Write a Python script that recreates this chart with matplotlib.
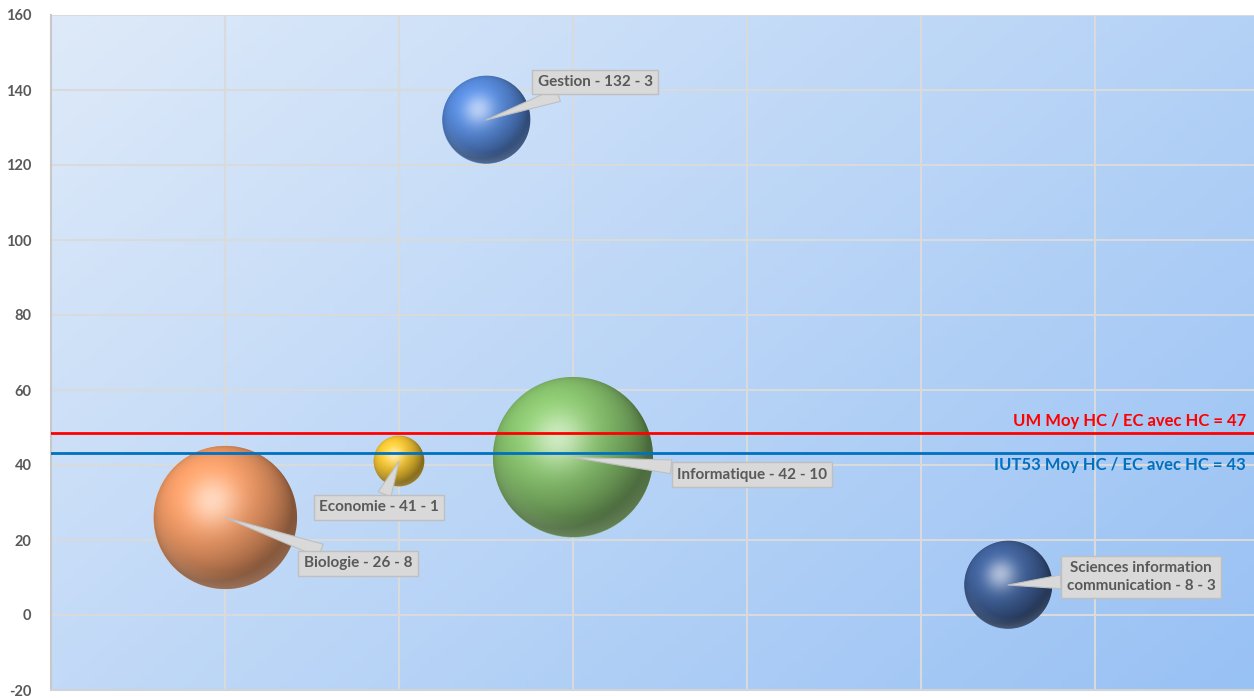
import numpy as np
import matplotlib
matplotlib.use("Agg")
import matplotlib.pyplot as plt
from matplotlib.offsetbox import OffsetImage, AnnotationBbox
from matplotlib.colors import to_rgb

# --------------------------------------------------
# DATA
# --------------------------------------------------
names = ["Biologie", "Economie", "Gestion", "Informatique",
         "Sciences information\ncommunication"]
x_vals = [1.0, 2.0, 2.5, 3.0, 5.5]
y_vals = [26, 41, 132, 42, 8]
sizes = [8, 1, 3, 10, 3]
colors = ["#f09a66", "#f0c232", "#5688d8", "#86c06c", "#40619a"]
label_offsets = [(133, -46), (-20, -46), (109, 38), (179, -17), (133, 8)]

um_avg = 48.5
iut_avg = 43.2
um_label = "UM Moy HC / EC avec HC = 47"
iut_label = "IUT53 Moy HC / EC avec HC = 43"

y_ticks = list(range(-20, 161, 20))

plt.rcParams["font.family"] = ["Lato", "DejaVu Sans"]

DPI = 100
fig = plt.figure(figsize=(12.54, 6.98), dpi=DPI)
ax = fig.add_axes([51 / 1254, 8 / 698, 1203 / 1254, 675 / 698])
ax.set_xlim(0, 1203 / 174)
ax.set_ylim(-20, 160)

# gradient background
gx, gy = np.meshgrid(np.linspace(0, 1, 200), np.linspace(1, 0, 200))
t = (gx * 0.6 + (1 - gy) * 0.4)
c0 = np.array([222, 234, 249]) / 255
c1 = np.array([152, 193, 244]) / 255
bg = c0 + (c1 - c0) * t[..., None]
ax.imshow(bg, extent=[0, 1, 0, 1], transform=ax.transAxes, aspect="auto", zorder=0)

# grid
ax.set_yticks(y_ticks, labels=[str(v) for v in y_ticks],
              fontweight="bold", fontsize=10.5, color="#595959")
ax.set_xticks(np.arange(1, 7))
ax.grid(True, color="#d9dadc", linewidth=1.5, zorder=1)
ax.set_axisbelow(True)
ax.tick_params(axis="both", length=0)
ax.tick_params(axis="y", pad=14)
ax.set_xticklabels([])
for s in ["top", "right"]:
    ax.spines[s].set_visible(False)
ax.spines["left"].set_color("#c8c8c8")
ax.spines["left"].set_linewidth(1.5)
ax.spines["bottom"].set_color("#d0d4da")
ax.spines["bottom"].set_linewidth(1.5)


def sphere(radius, color):
    n = int(2 * radius + 2)
    c = (n - 1) / 2
    yy, xx = np.mgrid[0:n, 0:n]
    u = (xx - c) / radius
    v = -(yy - c) / radius
    d = np.sqrt(u ** 2 + v ** 2)
    z = np.sqrt(np.clip(1 - d ** 2, 0, 1))
    L = np.array([-0.35, 0.45, 0.82])
    L = L / np.linalg.norm(L)
    diff = np.clip(u * L[0] + v * L[1] + z * L[2], 0, 1)
    H = L + np.array([0, 0, 1.0])
    H = H / np.linalg.norm(H)
    spec = np.clip(u * H[0] + v * H[1] + z * H[2], 0, 1) ** 16
    rim = np.clip(-v, 0, 1) * np.clip(d - 0.75, 0, 1) * 2.0
    base = np.array(to_rgb(color))
    rgb = base * (0.55 + 0.55 * diff[..., None])
    rgb = rgb + (1 - rgb) * (0.55 * spec[..., None] + 0.35 * rim[..., None])
    rgb = np.clip(rgb, 0, 1)
    alpha = np.clip((1 - d) * radius + 0.5, 0, 1)
    return np.dstack([rgb, alpha])


radii = [25.3 * np.sqrt(s) for s in sizes]

# base bubbles
ax.scatter(x_vals, y_vals, s=[(2 * r * 72 / DPI) ** 2 for r in radii],
           c=colors, linewidths=0, zorder=3)

# shaded spheres on top
for xv, yv, r, col in zip(x_vals, y_vals, radii, colors):
    im = OffsetImage(sphere(r, col), zoom=1, dpi_cor=False)
    ab = AnnotationBbox(im, (xv, yv), frameon=False, pad=0, zorder=4)
    ax.add_artist(ab)

# average lines
ax.axhline(um_avg, color="#ff0000", linewidth=2.0, zorder=5)
ax.axhline(iut_avg, color="#0070c0", linewidth=2.0, zorder=5)
ax.annotate(um_label, (1, um_avg), xycoords=("axes fraction", "data"),
            xytext=(-8, 4), textcoords="offset pixels", ha="right", va="bottom",
            color="#ff0000", fontsize=12, fontweight="bold", zorder=6)
ax.annotate(iut_label, (1, iut_avg), xycoords=("axes fraction", "data"),
            xytext=(-8, -4), textcoords="offset pixels", ha="right", va="top",
            color="#0070c0", fontsize=12, fontweight="bold", zorder=6)

# callout labels
for name, xv, yv, sz, off in zip(names, x_vals, y_vals, sizes, label_offsets):
    ax.annotate(f"{name} - {yv} - {sz}", (xv, yv), xytext=off,
                textcoords="offset pixels", ha="center", va="center",
                fontsize=11, fontweight="bold", color="#595959",
                linespacing=1.35,
                bbox=dict(boxstyle="square,pad=0.35", fc="#d9d9d9", ec="#bfbfbf", lw=1),
                arrowprops=dict(arrowstyle="wedge,tail_width=0.9,shrink_factor=0.5",
                                fc="#d9d9d9", ec="#bfbfbf", lw=0.8,
                                shrinkA=0, shrinkB=0),
                zorder=7)

fig.savefig("out.png", dpi=DPI)
